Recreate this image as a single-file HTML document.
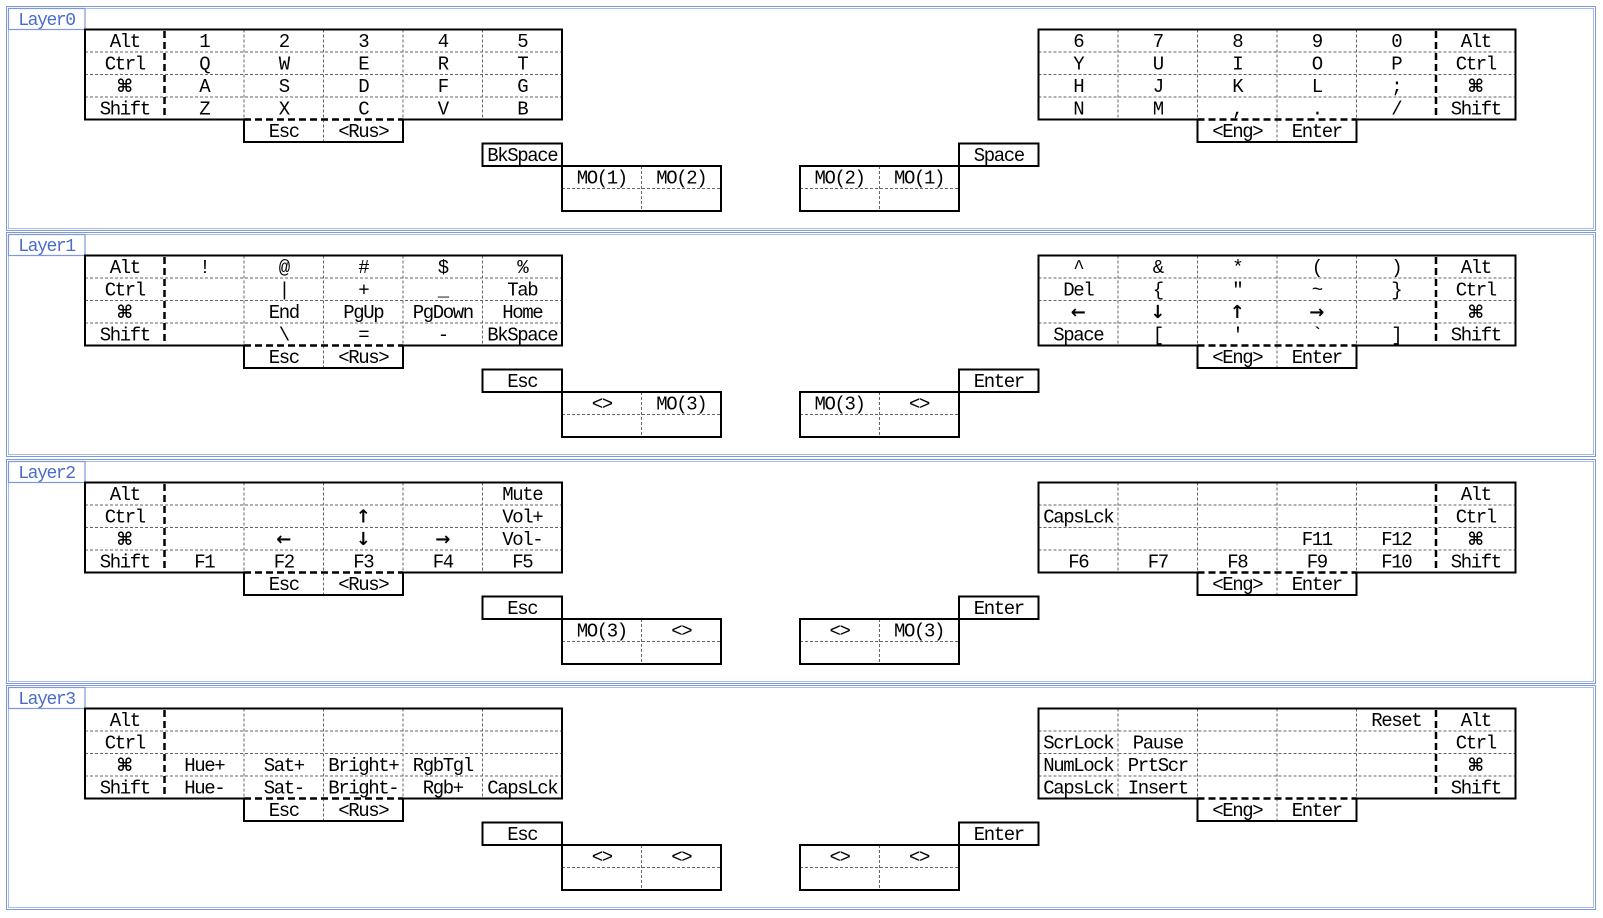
<!DOCTYPE html>
<html><head><meta charset="utf-8"><style>
html,body{margin:0;padding:0;background:#fff;width:1603px;height:918px;overflow:hidden}
svg{display:block}
text{font-family:"Liberation Mono","DejaVu Sans Mono",monospace;font-size:19px;letter-spacing:-1.4px;fill:#000;text-anchor:middle}
.lb{fill:#4a6cc8;font-size:18px}
.ic{font-family:"DejaVu Sans",sans-serif;font-weight:bold;font-size:18px;letter-spacing:0}
</style></head><body>
<svg width="1603" height="918" viewBox="0 0 1603 918" xmlns="http://www.w3.org/2000/svg">
<defs>
<g id="sk" fill="none">
<rect x="6.5" y="0.5" width="1589" height="224" stroke="#7f98dc" stroke-width="1"/>
<rect x="8.5" y="2.5" width="1585" height="220" stroke="#a9bbea" stroke-width="1"/>
<rect x="8.5" y="2.5" width="76.5" height="21" stroke="#7f98dc" stroke-width="1.2"/>
<g stroke="#666" stroke-width="1" stroke-dasharray="3,2">
<line x1="85" y1="46" x2="562" y2="46"/><line x1="85" y1="68.5" x2="562" y2="68.5"/><line x1="85" y1="91" x2="562" y2="91"/>
<line x1="244" y1="23.5" x2="244" y2="113.5"/><line x1="323.5" y1="23.5" x2="323.5" y2="136"/><line x1="403" y1="23.5" x2="403" y2="113.5"/><line x1="482.5" y1="23.5" x2="482.5" y2="113.5"/>
<line x1="562" y1="182.5" x2="721" y2="182.5"/><line x1="641.5" y1="160" x2="641.5" y2="205"/>
<line x1="1038.5" y1="46" x2="1515.5" y2="46"/><line x1="1038.5" y1="68.5" x2="1515.5" y2="68.5"/><line x1="1038.5" y1="91" x2="1515.5" y2="91"/>
<line x1="1118" y1="23.5" x2="1118" y2="113.5"/><line x1="1197.5" y1="23.5" x2="1197.5" y2="113.5"/><line x1="1277" y1="23.5" x2="1277" y2="136"/><line x1="1356.5" y1="23.5" x2="1356.5" y2="113.5"/>
<line x1="800" y1="182.5" x2="959" y2="182.5"/><line x1="879.5" y1="160" x2="879.5" y2="205"/>
</g>
<g stroke="#000" stroke-width="2">
<rect x="85" y="23.5" width="477" height="90"/>
<path d="M244,113.5 V136 H403 V113.5"/>
<rect x="482.5" y="137.5" width="79.5" height="22.5"/>
<rect x="562" y="160" width="159" height="45"/>
<rect x="1038.5" y="23.5" width="477" height="90"/>
<path d="M1197.5,113.5 V136 H1356.5 V113.5"/>
<rect x="959" y="137.5" width="79.5" height="22.5"/>
<rect x="800" y="160" width="159" height="45"/>
</g>
<g stroke="#fff" stroke-width="2.4">
<line x1="245" y1="113.5" x2="402" y2="113.5"/><line x1="1198.5" y1="113.5" x2="1355.5" y2="113.5"/>
</g>
<g stroke="#000" stroke-width="2.5" stroke-dasharray="7,4">
<line x1="164.5" y1="25" x2="164.5" y2="112"/><line x1="1436" y1="25" x2="1436" y2="112"/>
<line x1="244" y1="113.5" x2="403" y2="113.5"/><line x1="1197.5" y1="113.5" x2="1356.5" y2="113.5"/>
</g>
</g>
</defs>

<!-- Layer0 -->
<g transform="translate(0,6)">
<use href="#sk"/>
<text class="lb" x="46.5" y="19">Layer0</text>
<text x="124.75" y="40.75">Alt</text><text x="204.25" y="40.75">1</text><text x="283.75" y="40.75">2</text><text x="363.25" y="40.75">3</text><text x="442.75" y="40.75">4</text><text x="522.25" y="40.75">5</text>
<text x="124.75" y="63.25">Ctrl</text><text x="204.25" y="63.25">Q</text><text x="283.75" y="63.25">W</text><text x="363.25" y="63.25">E</text><text x="442.75" y="63.25">R</text><text x="522.25" y="63.25">T</text>
<text class="ic" x="124.75" y="85.75">⌘</text><text x="204.25" y="85.75">A</text><text x="283.75" y="85.75">S</text><text x="363.25" y="85.75">D</text><text x="442.75" y="85.75">F</text><text x="522.25" y="85.75">G</text>
<text x="124.75" y="108.25">Shift</text><text x="204.25" y="108.25">Z</text><text x="283.75" y="108.25">X</text><text x="363.25" y="108.25">C</text><text x="442.75" y="108.25">V</text><text x="522.25" y="108.25">B</text>
<text x="283.75" y="130.75">Esc</text><text x="363.25" y="130.75">&lt;Rus&gt;</text>
<text x="522.25" y="154.75">BkSpace</text>
<text x="601.75" y="177.25">MO(1)</text><text x="681.25" y="177.25">MO(2)</text>
<text x="1078.25" y="40.75">6</text><text x="1157.75" y="40.75">7</text><text x="1237.25" y="40.75">8</text><text x="1316.75" y="40.75">9</text><text x="1396.25" y="40.75">0</text><text x="1475.75" y="40.75">Alt</text>
<text x="1078.25" y="63.25">Y</text><text x="1157.75" y="63.25">U</text><text x="1237.25" y="63.25">I</text><text x="1316.75" y="63.25">O</text><text x="1396.25" y="63.25">P</text><text x="1475.75" y="63.25">Ctrl</text>
<text x="1078.25" y="85.75">H</text><text x="1157.75" y="85.75">J</text><text x="1237.25" y="85.75">K</text><text x="1316.75" y="85.75">L</text><text x="1396.25" y="85.75">;</text><text class="ic" x="1475.75" y="85.75">⌘</text>
<text x="1078.25" y="108.25">N</text><text x="1157.75" y="108.25">M</text><text x="1237.25" y="108.25">,</text><text x="1316.75" y="108.25">.</text><text x="1396.25" y="108.25">/</text><text x="1475.75" y="108.25">Shift</text>
<text x="1237.25" y="130.75">&lt;Eng&gt;</text><text x="1316.75" y="130.75">Enter</text>
<text x="998.75" y="154.75">Space</text>
<text x="839.5" y="177.25">MO(2)</text><text x="919" y="177.25">MO(1)</text>
</g>

<!-- Layer1 -->
<g transform="translate(0,232)">
<use href="#sk"/>
<text class="lb" x="46.5" y="19">Layer1</text>
<text x="124.75" y="40.75">Alt</text><text x="204.25" y="40.75">!</text><text x="283.75" y="40.75">@</text><text x="363.25" y="40.75">#</text><text x="442.75" y="40.75">$</text><text x="522.25" y="40.75">%</text>
<text x="124.75" y="63.25">Ctrl</text><text x="283.75" y="63.25">|</text><text x="363.25" y="63.25">+</text><text x="442.75" y="63.25">_</text><text x="522.25" y="63.25">Tab</text>
<text class="ic" x="124.75" y="85.75">⌘</text><text x="283.75" y="85.75">End</text><text x="363.25" y="85.75">PgUp</text><text x="442.75" y="85.75">PgDown</text><text x="522.25" y="85.75">Home</text>
<text x="124.75" y="108.25">Shift</text><text x="283.75" y="108.25">\</text><text x="363.25" y="108.25">=</text><text x="442.75" y="108.25">-</text><text x="522.25" y="108.25">BkSpace</text>
<text x="283.75" y="130.75">Esc</text><text x="363.25" y="130.75">&lt;Rus&gt;</text>
<text x="522.25" y="154.75">Esc</text>
<text x="601.75" y="177.25">&lt;&gt;</text><text x="681.25" y="177.25">MO(3)</text>
<text x="1078.25" y="40.75">^</text><text x="1157.75" y="40.75">&amp;</text><text x="1237.25" y="40.75">*</text><text x="1316.75" y="40.75">(</text><text x="1396.25" y="40.75">)</text><text x="1475.75" y="40.75">Alt</text>
<text x="1078.25" y="63.25">Del</text><text x="1157.75" y="63.25">{</text><text x="1237.25" y="63.25">"</text><text x="1316.75" y="63.25">~</text><text x="1396.25" y="63.25">}</text><text x="1475.75" y="63.25">Ctrl</text>
<text class="ic" x="1078.25" y="85.75">←</text><text class="ic" x="1157.75" y="85.75">↓</text><text class="ic" x="1237.25" y="85.75">↑</text><text class="ic" x="1316.75" y="85.75">→</text><text class="ic" x="1475.75" y="85.75">⌘</text>
<text x="1078.25" y="108.25">Space</text><text x="1157.75" y="108.25">[</text><text x="1237.25" y="108.25">'</text><text x="1316.75" y="108.25">`</text><text x="1396.25" y="108.25">]</text><text x="1475.75" y="108.25">Shift</text>
<text x="1237.25" y="130.75">&lt;Eng&gt;</text><text x="1316.75" y="130.75">Enter</text>
<text x="998.75" y="154.75">Enter</text>
<text x="839.5" y="177.25">MO(3)</text><text x="919" y="177.25">&lt;&gt;</text>
</g>

<!-- Layer2 -->
<g transform="translate(0,459)">
<use href="#sk"/>
<text class="lb" x="46.5" y="19">Layer2</text>
<text x="124.75" y="40.75">Alt</text><text x="522.25" y="40.75">Mute</text>
<text x="124.75" y="63.25">Ctrl</text><text class="ic" x="363.25" y="63.25">↑</text><text x="522.25" y="63.25">Vol+</text>
<text class="ic" x="124.75" y="85.75">⌘</text><text class="ic" x="283.75" y="85.75">←</text><text class="ic" x="363.25" y="85.75">↓</text><text class="ic" x="442.75" y="85.75">→</text><text x="522.25" y="85.75">Vol-</text>
<text x="124.75" y="108.25">Shift</text><text x="204.25" y="108.25">F1</text><text x="283.75" y="108.25">F2</text><text x="363.25" y="108.25">F3</text><text x="442.75" y="108.25">F4</text><text x="522.25" y="108.25">F5</text>
<text x="283.75" y="130.75">Esc</text><text x="363.25" y="130.75">&lt;Rus&gt;</text>
<text x="522.25" y="154.75">Esc</text>
<text x="601.75" y="177.25">MO(3)</text><text x="681.25" y="177.25">&lt;&gt;</text>
<text x="1475.75" y="40.75">Alt</text>
<text x="1078.25" y="63.25">CapsLck</text><text x="1475.75" y="63.25">Ctrl</text>
<text x="1316.75" y="85.75">F11</text><text x="1396.25" y="85.75">F12</text><text class="ic" x="1475.75" y="85.75">⌘</text>
<text x="1078.25" y="108.25">F6</text><text x="1157.75" y="108.25">F7</text><text x="1237.25" y="108.25">F8</text><text x="1316.75" y="108.25">F9</text><text x="1396.25" y="108.25">F10</text><text x="1475.75" y="108.25">Shift</text>
<text x="1237.25" y="130.75">&lt;Eng&gt;</text><text x="1316.75" y="130.75">Enter</text>
<text x="998.75" y="154.75">Enter</text>
<text x="839.5" y="177.25">&lt;&gt;</text><text x="919" y="177.25">MO(3)</text>
</g>

<!-- Layer3 -->
<g transform="translate(0,685)">
<use href="#sk"/>
<text class="lb" x="46.5" y="19">Layer3</text>
<text x="124.75" y="40.75">Alt</text>
<text x="124.75" y="63.25">Ctrl</text>
<text class="ic" x="124.75" y="85.75">⌘</text><text x="204.25" y="85.75">Hue+</text><text x="283.75" y="85.75">Sat+</text><text x="363.25" y="85.75">Bright+</text><text x="442.75" y="85.75">RgbTgl</text>
<text x="124.75" y="108.25">Shift</text><text x="204.25" y="108.25">Hue-</text><text x="283.75" y="108.25">Sat-</text><text x="363.25" y="108.25">Bright-</text><text x="442.75" y="108.25">Rgb+</text><text x="522.25" y="108.25">CapsLck</text>
<text x="283.75" y="130.75">Esc</text><text x="363.25" y="130.75">&lt;Rus&gt;</text>
<text x="522.25" y="154.75">Esc</text>
<text x="601.75" y="177.25">&lt;&gt;</text><text x="681.25" y="177.25">&lt;&gt;</text>
<text x="1396.25" y="40.75">Reset</text><text x="1475.75" y="40.75">Alt</text>
<text x="1078.25" y="63.25">ScrLock</text><text x="1157.75" y="63.25">Pause</text><text x="1475.75" y="63.25">Ctrl</text>
<text x="1078.25" y="85.75">NumLock</text><text x="1157.75" y="85.75">PrtScr</text><text class="ic" x="1475.75" y="85.75">⌘</text>
<text x="1078.25" y="108.25">CapsLck</text><text x="1157.75" y="108.25">Insert</text><text x="1475.75" y="108.25">Shift</text>
<text x="1237.25" y="130.75">&lt;Eng&gt;</text><text x="1316.75" y="130.75">Enter</text>
<text x="998.75" y="154.75">Enter</text>
<text x="839.5" y="177.25">&lt;&gt;</text><text x="919" y="177.25">&lt;&gt;</text>
</g>
</svg>
</body></html>
